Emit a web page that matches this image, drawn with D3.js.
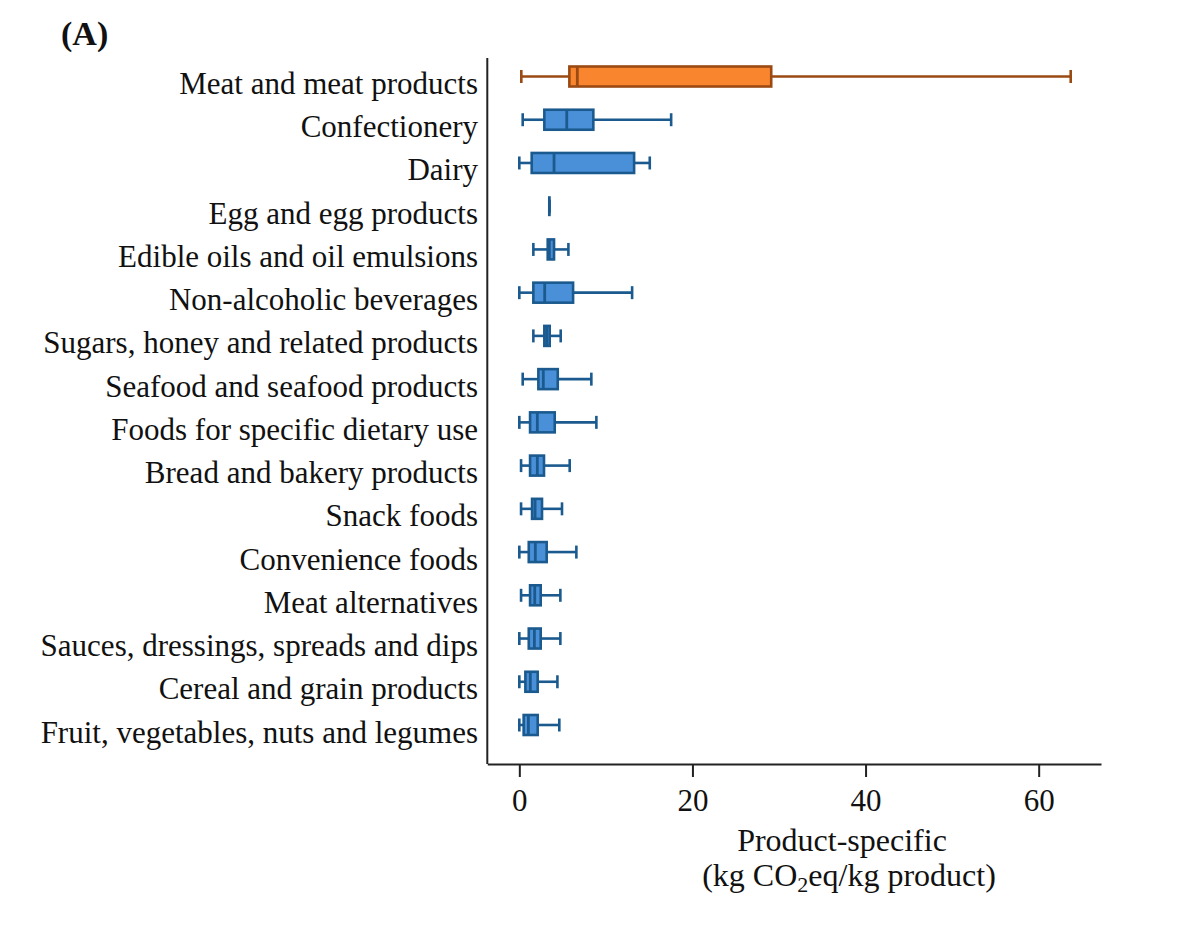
<!DOCTYPE html>
<html><head><meta charset="utf-8">
<script src="https://cdn.jsdelivr.net/npm/d3@7"></script>
<style>body{margin:0;background:#fff}svg{display:block}text{font-family:"Liberation Serif","Times New Roman",serif;fill:#111}</style>
</head><body>
<svg id="c" width="1178" height="926"></svg>
<script>
const categories = ["Meat and meat products","Confectionery","Dairy","Egg and egg products","Edible oils and oil emulsions","Non-alcoholic beverages","Sugars, honey and related products","Seafood and seafood products","Foods for specific dietary use","Bread and bakery products","Snack foods","Convenience foods","Meat alternatives","Sauces, dressings, spreads and dips","Cereal and grain products","Fruit, vegetables, nuts and legumes"];
const whiskerLow = [0.23,0.39,0.0,3.47,1.62,0.0,1.62,0.39,0.0,0.2,0.2,0.0,0.2,0.0,0.0,0.0];
const q1        = [5.78,2.89,1.43,3.47,3.28,1.62,2.89,2.2,1.24,1.24,1.47,1.09,1.24,1.09,0.7,0.5];
const median    = [6.7,5.48,4.01,3.47,3.47,2.93,3.16,2.77,2.08,2.08,1.82,1.85,1.78,1.74,1.27,1.05];
const q3        = [29.1,8.55,13.26,3.47,4.01,6.21,3.51,4.44,4.09,2.85,2.62,3.16,2.47,2.47,2.12,2.12];
const whiskerHigh=[63.7,17.54,15.07,3.47,5.67,13.03,4.78,8.32,8.9,5.82,4.93,6.59,4.74,4.74,4.4,4.62];
const highlight = ["Meat and meat products"];
const xTicks = [0,20,40,60];

const svg = d3.select("#c");
const x = d3.scaleLinear().domain([-3.7,67.2]).range([487.3,1101]);
const y = d3.scalePoint().domain(categories).range([76.5,725]);
const boxH = 20, capH = 13, lw = 2.6;
const data = categories.map((c,i)=>({c,lo:whiskerLow[i],q1:q1[i],med:median[i],q3:q3[i],hi:whiskerHigh[i]}));
const fillOf = d => highlight.includes(d.c) ? "#f9852e" : "#4a90d8";
const edgeOf = d => highlight.includes(d.c) ? "#9a4a12" : "#1b5a8e";

// spines
svg.append("line").attr("x1",487.3).attr("x2",487.3).attr("y1",58).attr("y2",764).attr("stroke","#222").attr("stroke-width",2);
const xAxis = svg.append("g").attr("transform","translate(0,764)")
  .call(d3.axisBottom(x).tickValues(xTicks).tickSizeInner(13).tickSizeOuter(0).tickPadding(12).tickFormat(d3.format("d")));
xAxis.select(".domain").attr("stroke","#222").attr("stroke-width",2);
xAxis.selectAll(".tick line").attr("stroke","#222").attr("stroke-width",2);
xAxis.selectAll(".tick text").attr("font-size",31).attr("font-family","Liberation Serif").attr("fill","#111");

// category labels
svg.append("g").selectAll("text").data(categories).join("text")
  .attr("x",478).attr("y",d=>y(d)+17.5).attr("text-anchor","end").attr("font-size",31).text(d=>d);

const g = svg.append("g").selectAll("g").data(data).join("g");
g.append("line").attr("x1",d=>x(d.lo)).attr("x2",d=>x(d.q1)).attr("y1",d=>y(d.c)).attr("y2",d=>y(d.c)).attr("stroke",edgeOf).attr("stroke-width",lw);
g.append("line").attr("x1",d=>x(d.q3)).attr("x2",d=>x(d.hi)).attr("y1",d=>y(d.c)).attr("y2",d=>y(d.c)).attr("stroke",edgeOf).attr("stroke-width",lw);
g.append("line").attr("x1",d=>x(d.lo)).attr("x2",d=>x(d.lo)).attr("y1",d=>y(d.c)-capH/2).attr("y2",d=>y(d.c)+capH/2).attr("stroke",edgeOf).attr("stroke-width",lw);
g.append("line").attr("x1",d=>x(d.hi)).attr("x2",d=>x(d.hi)).attr("y1",d=>y(d.c)-capH/2).attr("y2",d=>y(d.c)+capH/2).attr("stroke",edgeOf).attr("stroke-width",lw);
g.append("rect").attr("x",d=>x(d.q1)).attr("width",d=>Math.max(0,x(d.q3)-x(d.q1))).attr("y",d=>y(d.c)-boxH/2).attr("height",boxH)
  .attr("fill",fillOf).attr("stroke",edgeOf).attr("stroke-width",2.6);
g.append("line").attr("x1",d=>x(d.med)).attr("x2",d=>x(d.med)).attr("y1",d=>y(d.c)-boxH/2).attr("y2",d=>y(d.c)+boxH/2).attr("stroke",edgeOf).attr("stroke-width",2.8);

// axis title
const t1 = svg.append("text").attr("x",842).attr("y",851).attr("text-anchor","middle").attr("font-size",32).text("Product-specific");
const t2 = svg.append("text").attr("x",849).attr("y",886).attr("text-anchor","middle").attr("font-size",32);
t2.append("tspan").text("(kg CO");
t2.append("tspan").attr("font-size",22).attr("dy",6).text("2");
t2.append("tspan").attr("dy",-6).text("eq/kg product)");

svg.append("text").attr("x",61).attr("y",45).attr("font-size",34).attr("font-weight","bold").text("(A)");
</script>
</body></html>
